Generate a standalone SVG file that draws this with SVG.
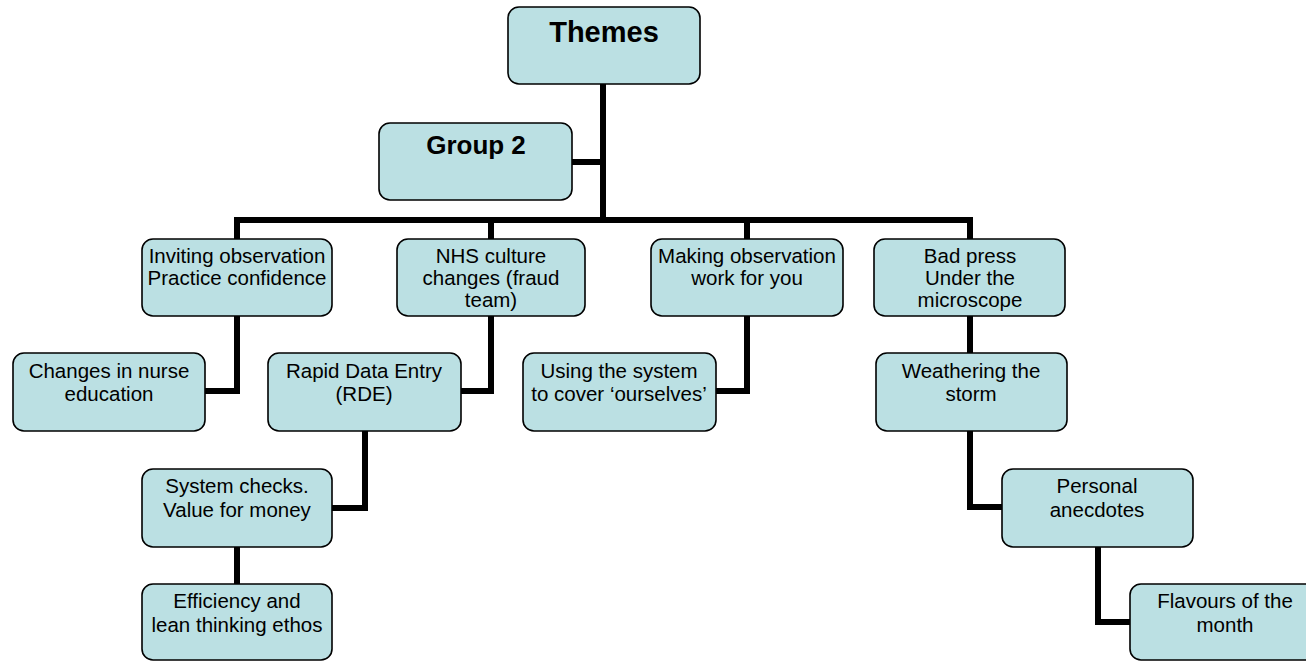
<svg xmlns="http://www.w3.org/2000/svg" width="1306" height="661" viewBox="0 0 1306 661">
  <style>
    .box { fill: #BBE0E3; stroke: #000; stroke-width: 1.6; }
    .lbl { font-family: "Liberation Sans", Arial, sans-serif; font-size: 20.5px; fill: #000; text-anchor: middle; }
    .head { font-family: "Liberation Sans", Arial, sans-serif; font-weight: bold; fill: #000; text-anchor: middle; }
    .wire { fill: none; stroke: #000; stroke-width: 6; stroke-linejoin: miter; }
  </style>
  <rect width="1306" height="661" fill="#fff"/>

  <!-- connectors -->
  <g id="connectors">
    <path class="wire" d="M603 84 V220"/>
    <path class="wire" d="M572 162 H603"/>
    <path class="wire" d="M237 239 V220 H970 V239"/>
    <path class="wire" d="M491 220 V239"/>
    <path class="wire" d="M747 220 V239"/>
    <path class="wire" d="M237 316 V391 H205"/>
    <path class="wire" d="M491 316 V391 H461"/>
    <path class="wire" d="M747 316 V391 H716"/>
    <path class="wire" d="M970 316 V353"/>
    <path class="wire" d="M365 430 V508 H332"/>
    <path class="wire" d="M237 547 V584"/>
    <path class="wire" d="M970 430 V507 H1002"/>
    <path class="wire" d="M1098 547 V622 H1130"/>
  </g>

  <g id="themes">
    <rect class="box" x="508" y="7" width="192" height="77" rx="11"/>
    <text class="head" x="604" y="42" font-size="29">Themes</text>
  </g>
  <g id="group2">
    <rect class="box" x="379" y="123" width="193" height="77" rx="11"/>
    <text class="head" x="476" y="154" font-size="26">Group 2</text>
  </g>

  <g id="inviting">
    <rect class="box" x="142" y="239" width="190" height="77" rx="11"/>
    <text class="lbl" x="237" y="263">Inviting observation</text>
    <text class="lbl" x="237" y="285">Practice confidence</text>
  </g>
  <g id="nhs">
    <rect class="box" x="397" y="239" width="188" height="77" rx="11"/>
    <text class="lbl" x="491" y="263">NHS culture</text>
    <text class="lbl" x="491" y="285">changes (fraud</text>
    <text class="lbl" x="491" y="307">team)</text>
  </g>
  <g id="making">
    <rect class="box" x="651" y="239" width="192" height="77" rx="11"/>
    <text class="lbl" x="747" y="263">Making observation</text>
    <text class="lbl" x="747" y="285">work for you</text>
  </g>
  <g id="badpress">
    <rect class="box" x="874" y="239" width="191" height="77" rx="11"/>
    <text class="lbl" x="970" y="263">Bad press</text>
    <text class="lbl" x="970" y="285">Under the</text>
    <text class="lbl" x="970" y="307">microscope</text>
  </g>

  <g id="nurse-education">
    <rect class="box" x="13" y="353" width="192" height="78" rx="11"/>
    <text class="lbl" x="109" y="378">Changes in nurse</text>
    <text class="lbl" x="109" y="401">education</text>
  </g>
  <g id="rde">
    <rect class="box" x="268" y="353" width="193" height="78" rx="11"/>
    <text class="lbl" x="364" y="378">Rapid Data Entry</text>
    <text class="lbl" x="364" y="401">(RDE)</text>
  </g>
  <g id="using-system">
    <rect class="box" x="523" y="353" width="193" height="78" rx="11"/>
    <text class="lbl" x="619" y="378">Using the system</text>
    <text class="lbl" x="619" y="401">to cover ‘ourselves’</text>
  </g>
  <g id="weathering">
    <rect class="box" x="876" y="353" width="191" height="78" rx="11"/>
    <text class="lbl" x="971" y="378">Weathering the</text>
    <text class="lbl" x="971" y="401">storm</text>
  </g>

  <g id="system-checks">
    <rect class="box" x="142" y="469" width="190" height="78" rx="11"/>
    <text class="lbl" x="237" y="493">System checks.</text>
    <text class="lbl" x="237" y="517">Value for money</text>
  </g>
  <g id="personal">
    <rect class="box" x="1002" y="469" width="191" height="78" rx="11"/>
    <text class="lbl" x="1097" y="493">Personal</text>
    <text class="lbl" x="1097" y="517">anecdotes</text>
  </g>

  <g id="efficiency">
    <rect class="box" x="142" y="584" width="190" height="76" rx="11"/>
    <text class="lbl" x="237" y="608">Efficiency and</text>
    <text class="lbl" x="237" y="632">lean thinking ethos</text>
  </g>
  <g id="flavours">
    <rect class="box" x="1130" y="584" width="192" height="76" rx="11"/>
    <text class="lbl" x="1225" y="608">Flavours of the</text>
    <text class="lbl" x="1225" y="632">month</text>
  </g>
</svg>
